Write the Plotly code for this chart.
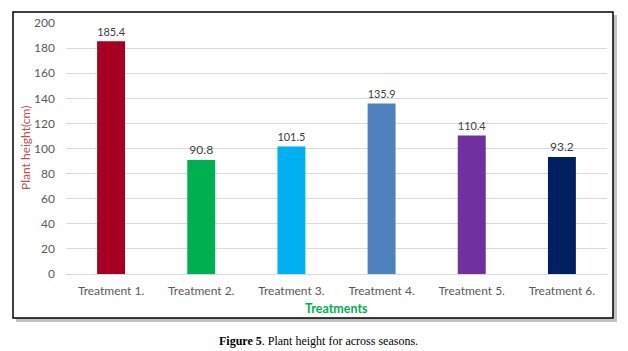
import plotly.graph_objects as go

categories = ["Treatment 1.", "Treatment 2.", "Treatment 3.", "Treatment 4.", "Treatment 5.", "Treatment 6."]
values = [185.4, 90.8, 101.5, 135.9, 110.4, 93.2]
colors = ["#A50021", "#00B050", "#00B0F0", "#4F81BD", "#7030A0", "#002060"]
y_ticks = [0, 20, 40, 60, 80, 100, 120, 140, 160, 180, 200]

W, H = 628, 351
L, R, T, B = 66, 21, 23, 77
pw, ph = W - L - R, H - T - B
FONT = "Lato, Open Sans, Liberation Sans"

def px_x(p):
    return (p - L) / pw

def px_y(p):
    return (H - B - p) / ph

fig = go.Figure()
fig.add_trace(go.Bar(
    x=categories, y=values,
    marker=dict(color=colors, line=dict(width=0)),
    text=[f"{v:.1f}" for v in values],
    textposition="outside",
    textfont=dict(family=FONT, size=12, color="#404040"),
    cliponaxis=False,
))

# shadow and border
fig.add_shape(type="rect", xref="paper", yref="paper",
              x0=px_x(16), x1=px_x(617), y0=px_y(322), y1=px_y(15),
              fillcolor="#9a9a9a", line=dict(width=0), layer="below", opacity=0.6)
fig.add_shape(type="rect", xref="paper", yref="paper",
              x0=px_x(13), x1=px_x(613), y0=px_y(318), y1=px_y(12),
              fillcolor="white", line=dict(color="black", width=1.5), layer="below")

fig.add_annotation(text="<b>Figure 5</b>. Plant height for across seasons.",
                   xref="paper", yref="paper", x=px_x(318), y=px_y(341),
                   showarrow=False, xanchor="center", yanchor="middle",
                   font=dict(family="Liberation Serif, Times New Roman", size=12, color="black"))

fig.add_annotation(text="<b>Treatments</b>",
                   xref="paper", yref="paper", x=px_x(336), y=px_y(309),
                   showarrow=False, xanchor="center", yanchor="middle",
                   font=dict(family=FONT, size=12.5, color="#00B050"))

fig.add_annotation(text="Plant height(cm)",
                   xref="paper", yref="paper", x=px_x(25), y=px_y(148),
                   showarrow=False, xanchor="center", yanchor="middle", textangle=-90,
                   font=dict(family=FONT, size=12, color="#C0504D"))

fig.update_layout(
    width=W, height=H,
    margin=dict(l=L, r=R, t=T, b=B, pad=0),
    paper_bgcolor="white", plot_bgcolor="rgba(0,0,0,0)",
    bargap=0.69,
    showlegend=False,
    xaxis=dict(
        showgrid=False, showline=True, linecolor="#D9D9D9", linewidth=1,
        ticks="", ticklabelstandoff=6,
        tickfont=dict(family=FONT, size=12, color="#595959"),
    ),
    yaxis=dict(
        range=[0, 200], tickvals=y_ticks, showgrid=True, gridcolor="#D9D9D9", gridwidth=1,
        zeroline=False, showline=False, ticks="", ticklabelstandoff=10,
        tickfont=dict(family=FONT, size=12, color="#595959"),
    ),
)

fig.write_html("out.html")
